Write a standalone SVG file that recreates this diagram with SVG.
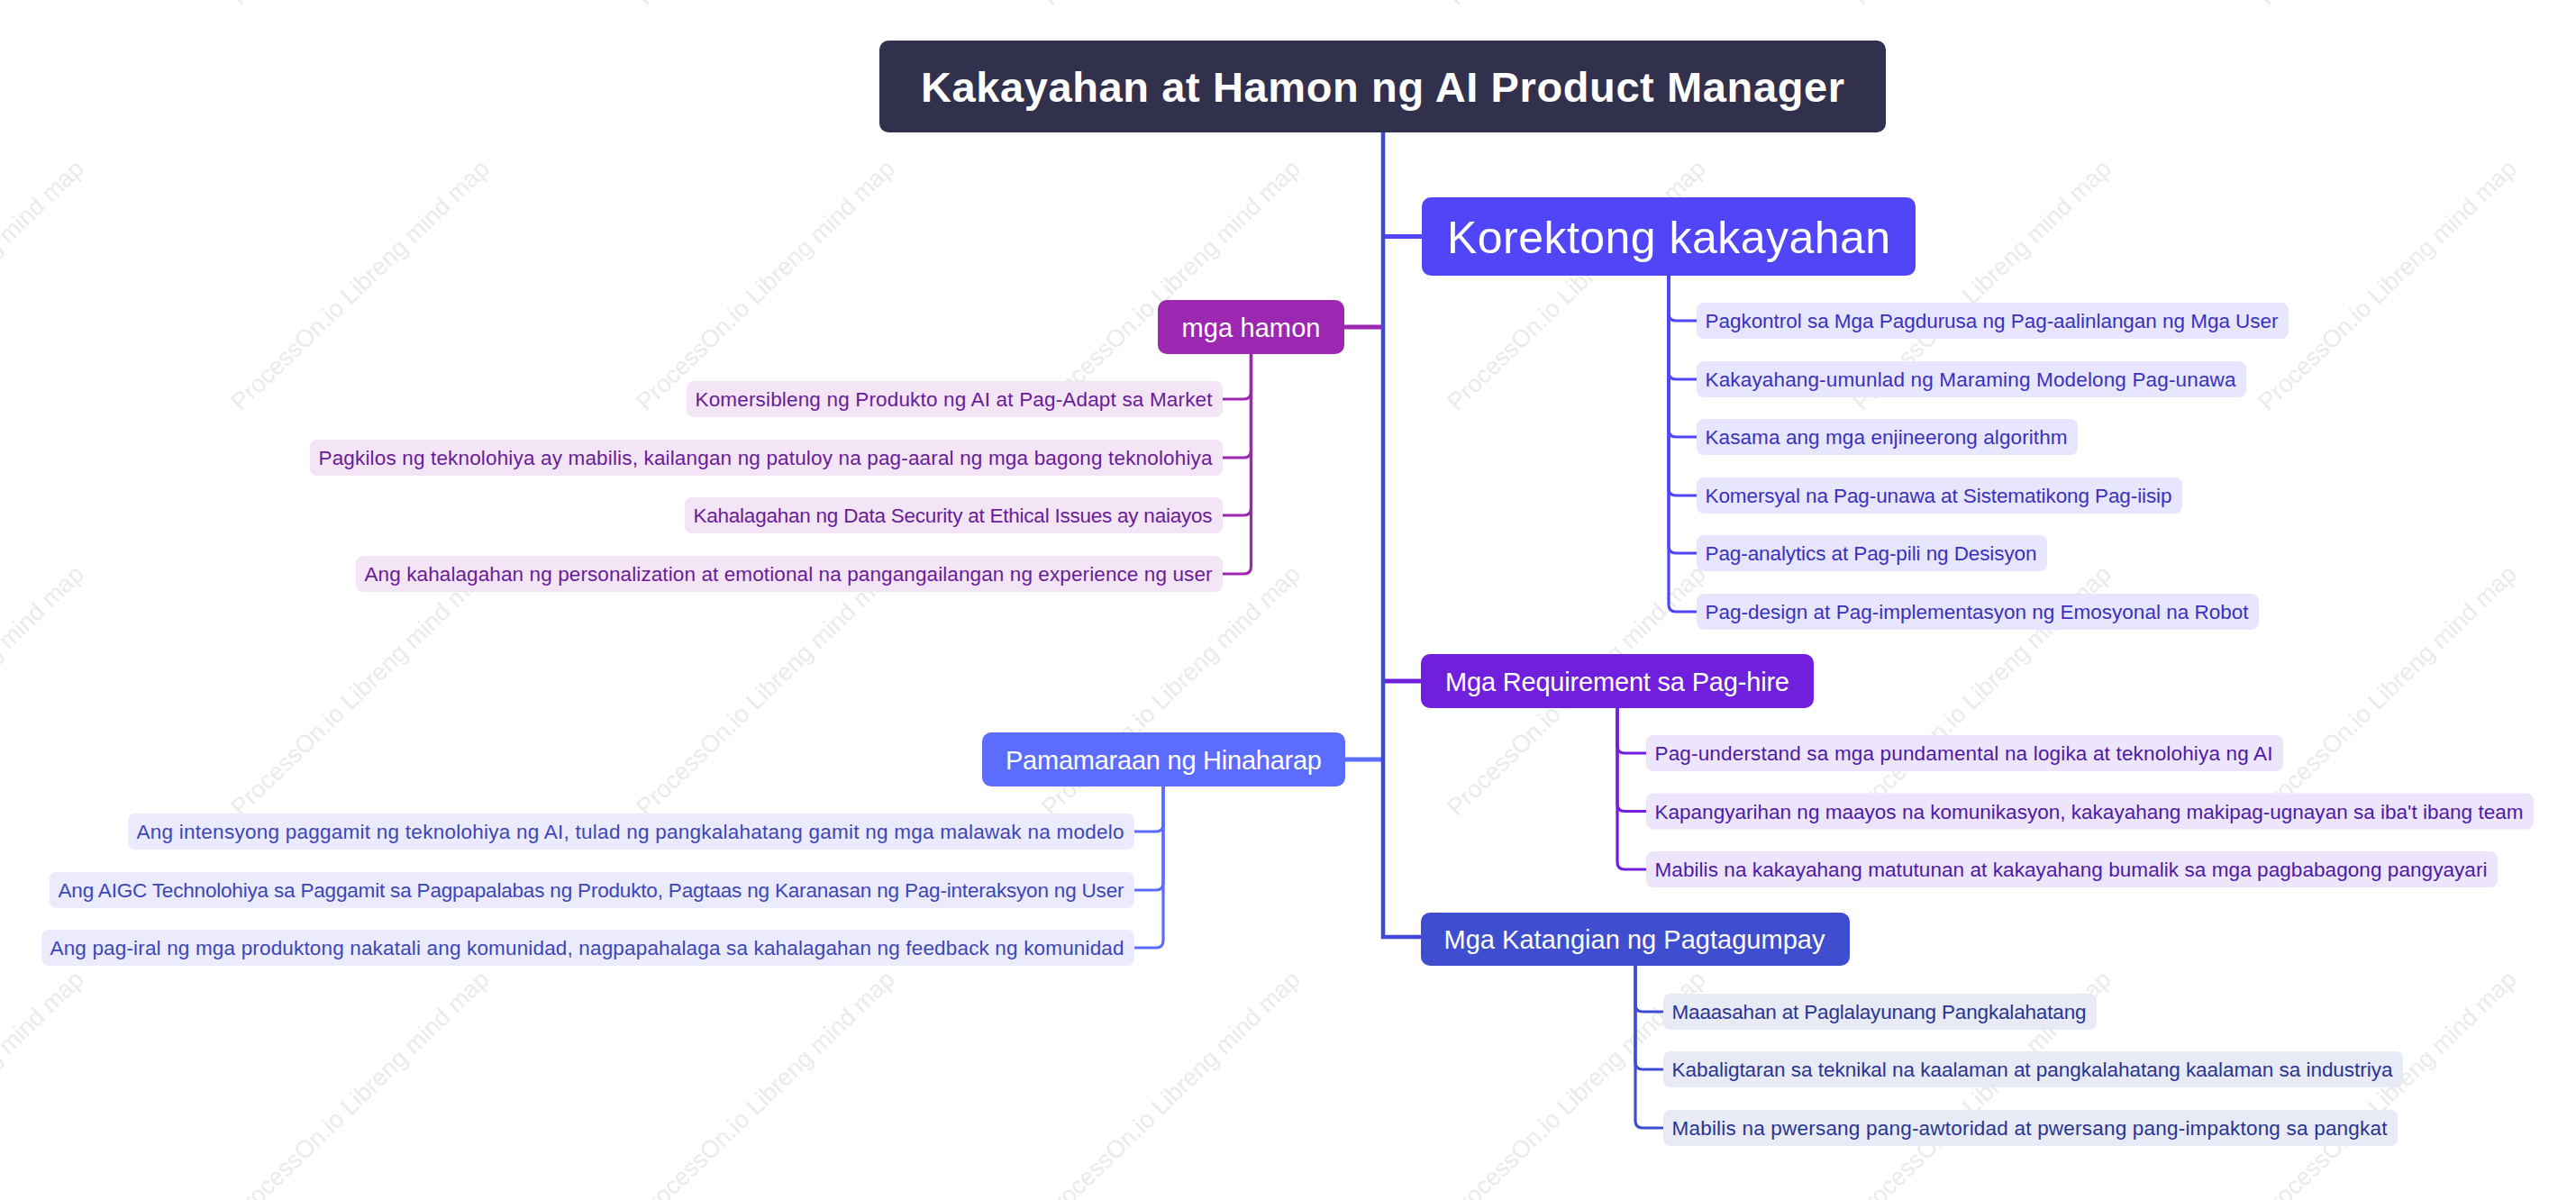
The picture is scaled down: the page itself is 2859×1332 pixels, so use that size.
<svg xmlns="http://www.w3.org/2000/svg" width="2859" height="1332" viewBox="0 0 2859 1332">
<style>
text{font-family:"Liberation Sans",Arial,sans-serif;}
.wm{font-size:27px;fill:#ebebeb;}
.title{font-size:47px;font-weight:bold;fill:#ffffff;}
.big{font-size:50px;fill:#ffffff;}
.lbl{font-size:29px;fill:#ffffff;}
.ct{font-size:22.5px;}
.k-box{fill:#5046f8;} .k-c{fill:#e8e6fe;} .k-t{fill:#3a31c0;} .k-l{stroke:#5046f8;}
.h-box{fill:#9c27b0;} .h-c{fill:#f3e5f5;} .h-t{fill:#6a1b9a;} .h-l{stroke:#9c27b0;}
.r-box{fill:#7020dd;} .r-c{fill:#ede5fb;} .r-t{fill:#4f1aa8;} .r-l{stroke:#7020dd;}
.p-box{fill:#5c6cfc;} .p-c{fill:#ebebfd;} .p-t{fill:#3d46b8;} .p-l{stroke:#5c6cfc;}
.g-box{fill:#3e4ecf;} .g-c{fill:#e8eaf6;} .g-t{fill:#283593;} .g-l{stroke:#3e4ecf;}
.conn path{fill:none;stroke-linecap:butt;}
.main{stroke-width:4.5;}
.br{stroke-width:5;}
.ch{stroke-width:3.2;}
</style>
<rect width="2859" height="1332" fill="#ffffff"/>
<g id="watermarks">
<text class="wm" x="-183" y="7" transform="rotate(-44 -183 7)">ProcessOn.io Libreng mind map</text>
<text class="wm" x="267" y="7" transform="rotate(-44 267 7)">ProcessOn.io Libreng mind map</text>
<text class="wm" x="717" y="7" transform="rotate(-44 717 7)">ProcessOn.io Libreng mind map</text>
<text class="wm" x="1167" y="7" transform="rotate(-44 1167 7)">ProcessOn.io Libreng mind map</text>
<text class="wm" x="1617" y="7" transform="rotate(-44 1617 7)">ProcessOn.io Libreng mind map</text>
<text class="wm" x="2067" y="7" transform="rotate(-44 2067 7)">ProcessOn.io Libreng mind map</text>
<text class="wm" x="2517" y="7" transform="rotate(-44 2517 7)">ProcessOn.io Libreng mind map</text>
<text class="wm" x="-183" y="457" transform="rotate(-44 -183 457)">ProcessOn.io Libreng mind map</text>
<text class="wm" x="267" y="457" transform="rotate(-44 267 457)">ProcessOn.io Libreng mind map</text>
<text class="wm" x="717" y="457" transform="rotate(-44 717 457)">ProcessOn.io Libreng mind map</text>
<text class="wm" x="1167" y="457" transform="rotate(-44 1167 457)">ProcessOn.io Libreng mind map</text>
<text class="wm" x="1617" y="457" transform="rotate(-44 1617 457)">ProcessOn.io Libreng mind map</text>
<text class="wm" x="2067" y="457" transform="rotate(-44 2067 457)">ProcessOn.io Libreng mind map</text>
<text class="wm" x="2517" y="457" transform="rotate(-44 2517 457)">ProcessOn.io Libreng mind map</text>
<text class="wm" x="-183" y="907" transform="rotate(-44 -183 907)">ProcessOn.io Libreng mind map</text>
<text class="wm" x="267" y="907" transform="rotate(-44 267 907)">ProcessOn.io Libreng mind map</text>
<text class="wm" x="717" y="907" transform="rotate(-44 717 907)">ProcessOn.io Libreng mind map</text>
<text class="wm" x="1167" y="907" transform="rotate(-44 1167 907)">ProcessOn.io Libreng mind map</text>
<text class="wm" x="1617" y="907" transform="rotate(-44 1617 907)">ProcessOn.io Libreng mind map</text>
<text class="wm" x="2067" y="907" transform="rotate(-44 2067 907)">ProcessOn.io Libreng mind map</text>
<text class="wm" x="2517" y="907" transform="rotate(-44 2517 907)">ProcessOn.io Libreng mind map</text>
<text class="wm" x="-183" y="1357" transform="rotate(-44 -183 1357)">ProcessOn.io Libreng mind map</text>
<text class="wm" x="267" y="1357" transform="rotate(-44 267 1357)">ProcessOn.io Libreng mind map</text>
<text class="wm" x="717" y="1357" transform="rotate(-44 717 1357)">ProcessOn.io Libreng mind map</text>
<text class="wm" x="1167" y="1357" transform="rotate(-44 1167 1357)">ProcessOn.io Libreng mind map</text>
<text class="wm" x="1617" y="1357" transform="rotate(-44 1617 1357)">ProcessOn.io Libreng mind map</text>
<text class="wm" x="2067" y="1357" transform="rotate(-44 2067 1357)">ProcessOn.io Libreng mind map</text>
<text class="wm" x="2517" y="1357" transform="rotate(-44 2517 1357)">ProcessOn.io Libreng mind map</text>
</g>

<g id="connectors" class="conn">
<path class="br k-l" d="M1535,262.5 H1578"/>
<path class="br h-l" d="M1535,363 H1492"/>
<path class="br r-l" d="M1535,756 H1577"/>
<path class="br p-l" d="M1535,843 H1490"/>
<path class="main" stroke="#4347d6" d="M1535,147 V1040 H1577"/>
<path class="ch k-l" d="M1852,306 V348 Q1852,356 1860,356 H1883"/>
<path class="ch k-l" d="M1852,306 V413 Q1852,421 1860,421 H1883"/>
<path class="ch k-l" d="M1852,306 V477 Q1852,485 1860,485 H1883"/>
<path class="ch k-l" d="M1852,306 V542 Q1852,550 1860,550 H1883"/>
<path class="ch k-l" d="M1852,306 V606 Q1852,614 1860,614 H1883"/>
<path class="ch k-l" d="M1852,306 V671 Q1852,679 1860,679 H1883"/>
<path class="ch h-l" d="M1388.5,393 V435 Q1388.5,443 1380.5,443 H1357"/>
<path class="ch h-l" d="M1388.5,393 V500 Q1388.5,508 1380.5,508 H1357"/>
<path class="ch h-l" d="M1388.5,393 V564 Q1388.5,572 1380.5,572 H1357"/>
<path class="ch h-l" d="M1388.5,393 V629 Q1388.5,637 1380.5,637 H1357"/>
<path class="ch r-l" d="M1795,786 V828 Q1795,836 1803,836 H1827"/>
<path class="ch r-l" d="M1795,786 V892.5 Q1795,900.5 1803,900.5 H1827"/>
<path class="ch r-l" d="M1795,786 V957 Q1795,965 1803,965 H1827"/>
<path class="ch p-l" d="M1291,873 V915 Q1291,923 1283,923 H1259"/>
<path class="ch p-l" d="M1291,873 V980 Q1291,988 1283,988 H1259"/>
<path class="ch p-l" d="M1291,873 V1044 Q1291,1052 1283,1052 H1259"/>
<path class="ch g-l" d="M1815,1072 V1115 Q1815,1123 1823,1123 H1846"/>
<path class="ch g-l" d="M1815,1072 V1179 Q1815,1187 1823,1187 H1846"/>
<path class="ch g-l" d="M1815,1072 V1244 Q1815,1252 1823,1252 H1846"/>
</g>

<g id="root">
<rect x="976" y="45" width="1117" height="102" rx="10" fill="#31304d"/>
<text class="title" x="1534.5" y="113" text-anchor="middle" textLength="1025">Kakayahan at Hamon ng AI Product Manager</text>
</g>

<g id="korektong">
<rect class="k-box" x="1578" y="219" width="548" height="87" rx="10"/>
<text class="big" x="1852" y="280.5" text-anchor="middle" textLength="492">Korektong kakayahan</text>
</g>
<g id="k1"><rect class="k-c" x="1883" y="336" width="657" height="40" rx="8"/><text class="ct k-t" x="1892.5" y="364" textLength="636">Pagkontrol sa Mga Pagdurusa ng Pag-aalinlangan ng Mga User</text></g>
<g id="k2"><rect class="k-c" x="1883" y="401" width="610" height="40" rx="8"/><text class="ct k-t" x="1892.5" y="429" textLength="589">Kakayahang-umunlad ng Maraming Modelong Pag-unawa</text></g>
<g id="k3"><rect class="k-c" x="1883" y="465" width="423" height="40" rx="8"/><text class="ct k-t" x="1892.5" y="493" textLength="402">Kasama ang mga enjineerong algorithm</text></g>
<g id="k4"><rect class="k-c" x="1883" y="530" width="539" height="40" rx="8"/><text class="ct k-t" x="1892.5" y="558" textLength="518">Komersyal na Pag-unawa at Sistematikong Pag-iisip</text></g>
<g id="k5"><rect class="k-c" x="1883" y="594" width="389" height="40" rx="8"/><text class="ct k-t" x="1892.5" y="622" textLength="368">Pag-analytics at Pag-pili ng Desisyon</text></g>
<g id="k6"><rect class="k-c" x="1883" y="659" width="624" height="40" rx="8"/><text class="ct k-t" x="1892.5" y="687" textLength="603">Pag-design at Pag-implementasyon ng Emosyonal na Robot</text></g>

<g id="hamon">
<rect class="h-box" x="1285" y="333" width="207" height="60" rx="10"/>
<text class="lbl" x="1388.5" y="373.5" text-anchor="middle" textLength="154">mga hamon</text>
</g>
<g id="h1"><rect class="h-c" x="762" y="423" width="595" height="40" rx="8"/><text class="ct h-t" x="771.5" y="451" textLength="574">Komersibleng ng Produkto ng AI at Pag-Adapt sa Market</text></g>
<g id="h2"><rect class="h-c" x="344" y="488" width="1013" height="40" rx="8"/><text class="ct h-t" x="353.5" y="516" textLength="992">Pagkilos ng teknolohiya ay mabilis, kailangan ng patuloy na pag-aaral ng mga bagong teknolohiya</text></g>
<g id="h3"><rect class="h-c" x="760" y="552" width="597" height="40" rx="8"/><text class="ct h-t" x="769.5" y="580" textLength="576">Kahalagahan ng Data Security at Ethical Issues ay naiayos</text></g>
<g id="h4"><rect class="h-c" x="395" y="617" width="962" height="40" rx="8"/><text class="ct h-t" x="404.5" y="645" textLength="941">Ang kahalagahan ng personalization at emotional na pangangailangan ng experience ng user</text></g>

<g id="requirement">
<rect class="r-box" x="1577" y="726" width="436" height="60" rx="10"/>
<text class="lbl" x="1795" y="766.5" text-anchor="middle" textLength="382">Mga Requirement sa Pag-hire</text>
</g>
<g id="r1"><rect class="r-c" x="1827" y="816" width="707" height="40" rx="8"/><text class="ct r-t" x="1836.5" y="844" textLength="686">Pag-understand sa mga pundamental na logika at teknolohiya ng AI</text></g>
<g id="r2"><rect class="r-c" x="1827" y="880.5" width="985" height="40" rx="8"/><text class="ct r-t" x="1836.5" y="908.5" textLength="964">Kapangyarihan ng maayos na komunikasyon, kakayahang makipag-ugnayan sa iba't ibang team</text></g>
<g id="r3"><rect class="r-c" x="1827" y="945" width="945" height="40" rx="8"/><text class="ct r-t" x="1836.5" y="973" textLength="924">Mabilis na kakayahang matutunan at kakayahang bumalik sa mga pagbabagong pangyayari</text></g>

<g id="pamamaraan">
<rect class="p-box" x="1090" y="813" width="403" height="60" rx="10"/>
<text class="lbl" x="1291.5" y="853.5" text-anchor="middle" textLength="351">Pamamaraan ng Hinaharap</text>
</g>
<g id="p1"><rect class="p-c" x="142" y="903" width="1117" height="40" rx="8"/><text class="ct p-t" x="151.5" y="931" textLength="1096">Ang intensyong paggamit ng teknolohiya ng AI, tulad ng pangkalahatang gamit ng mga malawak na modelo</text></g>
<g id="p2"><rect class="p-c" x="55" y="968" width="1204" height="40" rx="8"/><text class="ct p-t" x="64.5" y="996" textLength="1183">Ang AIGC Technolohiya sa Paggamit sa Pagpapalabas ng Produkto, Pagtaas ng Karanasan ng Pag-interaksyon ng User</text></g>
<g id="p3"><rect class="p-c" x="46" y="1032" width="1213" height="40" rx="8"/><text class="ct p-t" x="55.5" y="1060" textLength="1192">Ang pag-iral ng mga produktong nakatali ang komunidad, nagpapahalaga sa kahalagahan ng feedback ng komunidad</text></g>

<g id="katangian">
<rect class="g-box" x="1577" y="1013" width="476" height="59" rx="10"/>
<text class="lbl" x="1814" y="1053" text-anchor="middle" textLength="423">Mga Katangian ng Pagtagumpay</text>
</g>
<g id="g1"><rect class="g-c" x="1846" y="1103" width="481" height="40" rx="8"/><text class="ct g-t" x="1855.5" y="1131" textLength="460">Maaasahan at Paglalayunang Pangkalahatang</text></g>
<g id="g2"><rect class="g-c" x="1846" y="1167" width="821" height="40" rx="8"/><text class="ct g-t" x="1855.5" y="1195" textLength="800">Kabaligtaran sa teknikal na kaalaman at pangkalahatang kaalaman sa industriya</text></g>
<g id="g3"><rect class="g-c" x="1846" y="1232" width="815" height="40" rx="8"/><text class="ct g-t" x="1855.5" y="1260" textLength="794">Mabilis na pwersang pang-awtoridad at pwersang pang-impaktong sa pangkat</text></g>
</svg>
